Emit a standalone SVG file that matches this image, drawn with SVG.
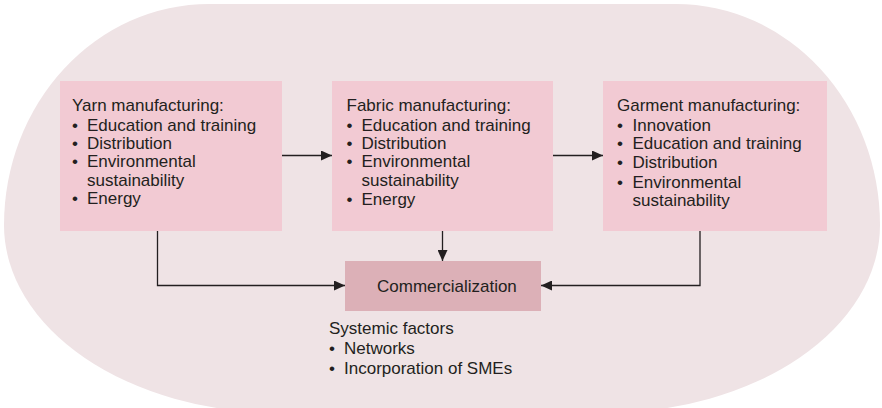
<svg xmlns="http://www.w3.org/2000/svg" width="882" height="408" viewBox="0 0 882 408">
  <style>
    text { font-family: "Liberation Sans", Arial, sans-serif; font-size: 17px; fill: #231F20; }
    .box { fill: #F2CAD3; }
    .comm { fill: #DCB0B7; }
    .conn { fill: none; stroke: #231F20; stroke-width: 1.3; }
  </style>
  <defs>
    <marker id="arrow" markerUnits="userSpaceOnUse" markerWidth="11" markerHeight="10" refX="11" refY="5" orient="auto">
      <path d="M0,0 L11,5 L0,10 Z" fill="#231F20"/>
    </marker>
  </defs>

  <path id="background" d="M 209 4 L 676 4 A 204 221 0 0 1 880 225 A 276 188 0 0 1 604 413 L 280 413 A 276 188 0 0 1 4 225 A 205 221 0 0 1 209 4 Z" fill="#EFE3E5"/>

  <g id="yarn">
    <rect class="box" x="60" y="81" width="222" height="150"/>
    <text x="72" y="111">Yarn manufacturing:</text>
    <text x="72" y="130.5">•<tspan x="87">Education and training</tspan></text>
    <text x="72" y="148.5">•<tspan x="87">Distribution</tspan></text>
    <text x="72" y="167">•<tspan x="87">Environmental</tspan></text>
    <text x="87" y="185.5">sustainability</text>
    <text x="72" y="204">•<tspan x="87">Energy</tspan></text>
  </g>

  <g id="fabric">
    <rect class="box" x="332" y="81" width="221" height="150"/>
    <text x="346.5" y="111">Fabric manufacturing:</text>
    <text x="346.5" y="130.5">•<tspan x="361.5">Education and training</tspan></text>
    <text x="346.5" y="148.5">•<tspan x="361.5">Distribution</tspan></text>
    <text x="346.5" y="167">•<tspan x="361.5">Environmental</tspan></text>
    <text x="361.5" y="185.5">sustainability</text>
    <text x="346.5" y="205">•<tspan x="361.5">Energy</tspan></text>
  </g>

  <g id="garment">
    <rect class="box" x="603" y="81" width="224" height="150"/>
    <text x="617" y="111">Garment manufacturing:</text>
    <text x="617" y="130.5">•<tspan x="632.5">Innovation</tspan></text>
    <text x="617" y="149">•<tspan x="632.5">Education and training</tspan></text>
    <text x="617" y="167.5">•<tspan x="632.5">Distribution</tspan></text>
    <text x="617" y="187.5">•<tspan x="632.5">Environmental</tspan></text>
    <text x="632.5" y="206">sustainability</text>
  </g>

  <g id="commercialization">
    <rect class="comm" x="345" y="261" width="196" height="50"/>
    <text x="377" y="292">Commercialization</text>
  </g>

  <g id="systemic-factors">
    <text x="329" y="334.3">Systemic factors</text>
    <text x="329" y="354.3">•<tspan x="344">Networks</tspan></text>
    <text x="329" y="373.5">•<tspan x="344">Incorporation of SMEs</tspan></text>
  </g>

  <g id="connectors">
    <path class="conn" d="M 282 155.5 L 332 155.5" marker-end="url(#arrow)"/>
    <path class="conn" d="M 553 155.5 L 603 155.5" marker-end="url(#arrow)"/>
    <path class="conn" d="M 442.5 231 L 442.5 261" marker-end="url(#arrow)"/>
    <path class="conn" d="M 157.5 231 L 157.5 285.5 L 345 285.5" marker-end="url(#arrow)"/>
    <path class="conn" d="M 700 231 L 700 285.5 L 541 285.5" marker-end="url(#arrow)"/>
  </g>
</svg>
